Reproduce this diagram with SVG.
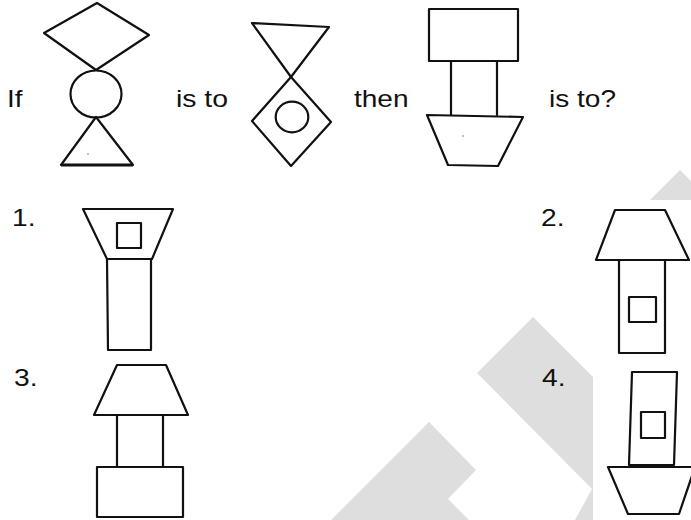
<svg xmlns="http://www.w3.org/2000/svg" width="691" height="520" viewBox="0 0 691 520">
<style>
.t{font-family:"Liberation Sans",Arial,sans-serif;font-size:24px;fill:#111}
.s{fill:none;stroke:#111;stroke-width:2.2;stroke-linejoin:round;stroke-linecap:round}
.w{fill:#dedede}
</style>
<rect width="691" height="520" fill="#fff"/>
<g id="watermark">
<polygon class="w" points="680,170 760,250 680,330 600,250"/>
<polygon class="w" points="533,317 700,484 700,520 575,520 592,489 477,373"/>
<polygon class="w" points="429,422 476,470 448,499 469,520 332,520 332,519"/>
<rect x="593" y="200" width="98" height="320" fill="#fff"/>
</g>
<g id="labels">
<text class="t" x="7" y="107" textLength="15.5" lengthAdjust="spacingAndGlyphs">If</text>
<text class="t" x="176" y="107" textLength="52" lengthAdjust="spacingAndGlyphs">is to</text>
<text class="t" x="354" y="107" textLength="54.5" lengthAdjust="spacingAndGlyphs">then</text>
<text class="t" x="549" y="107" textLength="67" lengthAdjust="spacingAndGlyphs">is to?</text>
<text class="t" x="12" y="226" textLength="23.5" lengthAdjust="spacingAndGlyphs">1.</text>
<text class="t" x="541" y="226" textLength="23.5" lengthAdjust="spacingAndGlyphs">2.</text>
<text class="t" x="14" y="386" textLength="23.5" lengthAdjust="spacingAndGlyphs">3.</text>
<text class="t" x="542" y="386" textLength="23.5" lengthAdjust="spacingAndGlyphs">4.</text>
</g>
<g id="fig-q1">
<polygon class="s" points="97,3 149,35 96,70 44,33"/>
<ellipse class="s" cx="96" cy="94" rx="25.5" ry="23.5"/>
<polygon class="s" points="96,117 133,165 61,165"/>
<line x1="61" y1="165" x2="133" y2="165" stroke="#111" stroke-width="3"/>
<circle cx="88" cy="154" r="0.8" fill="#777"/>
</g>
<g id="fig-q2">
<polygon class="s" points="252,23 329,27 291,77"/>
<polygon class="s" points="291,77 331,122 291,166 252,121"/>
<ellipse class="s" cx="292" cy="117" rx="16.3" ry="15.3"/>
</g>
<g id="fig-q3">
<rect class="s" x="429" y="9" width="89" height="52"/>
<polyline class="s" points="451,61 451,115"/>
<polyline class="s" points="497,61 497,115"/>
<polygon class="s" points="427,115 523,117 498,166 448,165"/>
<circle cx="463" cy="136" r="1" fill="#aaa"/>
</g>
<g id="option-1">
<polygon class="s" points="83,209 173,209 152,259 107,259"/>
<rect class="s" x="117" y="223" width="24" height="25"/>
<polyline class="s" points="107,259 108,350 151,350 151,259"/>
</g>
<g id="option-2">
<polygon class="s" points="615,210 665,210 689,260 596,260"/>
<polyline class="s" points="619,260 619,353 665,353 665,260"/>
<rect class="s" x="629" y="297" width="27" height="25"/>
</g>
<g id="option-3">
<polygon class="s" points="117,365 166,365 188,415 94,415"/>
<polyline class="s" points="117,415 117,467"/>
<polyline class="s" points="163,415 163,467"/>
<rect class="s" x="97" y="467" width="86" height="50"/>
</g>
<g id="option-4">
<polygon class="s" points="632,372 677,372 674,465 629,465"/>
<rect class="s" x="641" y="412" width="24" height="26"/>
<polygon class="s" points="608,467 695,467 679,514 628,514"/>
</g>
</svg>
